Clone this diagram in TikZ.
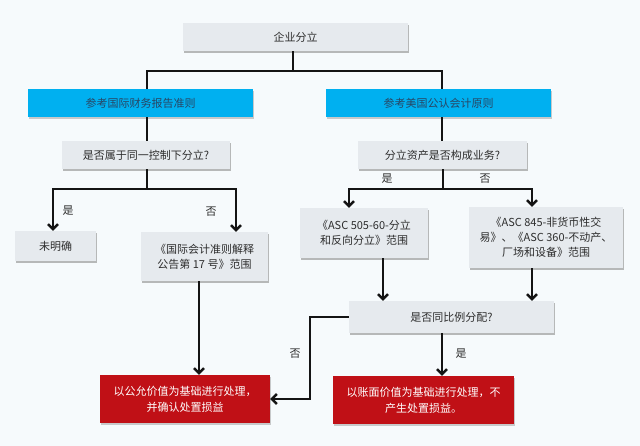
\documentclass[tikz,border=0pt]{standalone}
\usepackage{fontspec}
\setmainfont{Noto Sans CJK SC}
\usetikzlibrary{arrows.meta,shadows}
\definecolor{bgc}{RGB}{246,250,252}
\definecolor{gboxc}{RGB}{230,234,238}
\definecolor{bluec}{RGB}{0,176,240}
\definecolor{redc}{RGB}{192,16,22}
\definecolor{txtc}{RGB}{45,45,45}
\definecolor{bluetxt}{RGB}{40,70,100}
\tikzset{
  gbox/.style={rectangle, fill=gboxc, text=txtc, font=\fontsize{11}{15}\selectfont, align=center, inner sep=2pt,
    drop shadow={shadow xshift=0.6pt, shadow yshift=-1.8pt, fill=black!45, opacity=0.6}},
  bbox/.style={rectangle, fill=bluec, text=bluetxt, font=\fontsize{11}{15}\selectfont, align=center, inner sep=2pt,
    drop shadow={shadow xshift=0.6pt, shadow yshift=-1.8pt, fill=black!40, opacity=0.5}},
  rbox/.style={rectangle, fill=redc, text=white, font=\fontsize{11}{16}\selectfont, align=center, inner sep=2pt,
    drop shadow={shadow xshift=0.6pt, shadow yshift=-1.8pt, fill=black!40, opacity=0.5}},
  conn/.style={line width=2.4pt, draw=black!92, line join=miter},
  arr/.style={conn, -{Straight Barb[length=5pt,width=10pt,line width=2.4pt]}},
  lbl/.style={text=txtc, font=\fontsize{11}{13}\selectfont, inner sep=0pt}
}
\begin{document}
\begin{tikzpicture}[x=1pt,y=-1pt]
\fill[bgc] (0,0) rectangle (640,446);
\useasboundingbox (0,0) rectangle (640,446);

% boxes
\node[gbox, minimum width=225pt, minimum height=28pt] (top) at (295.5,37) {企业分立};
\node[bbox, minimum width=225pt, minimum height=28pt] (blueL) at (140.5,103) {参考国际财务报告准则};
\node[bbox, minimum width=225pt, minimum height=28pt] (blueR) at (438.5,103) {参考美国公认会计原则};
\node[gbox, minimum width=168pt, minimum height=28pt] (q1) at (146,155) {是否属于同一控制下分立?};
\node[gbox, minimum width=169pt, minimum height=28pt] (q2) at (442.5,155) {分立资产是否构成业务?};
\node[gbox, minimum width=81pt, minimum height=30pt] (unk) at (55.5,246) {未明确};
\node[gbox, minimum width=127pt, minimum height=49pt] (ias) at (204.5,256.5) {《国际会计准则解释\\公告第 17 号》范围};
\node[gbox, minimum width=128pt, minimum height=50pt] (asc505) at (364,233) {《ASC 505-60-分立\\和反向分立》范围};
\node[gbox, minimum width=154pt, minimum height=61pt] (asc845) at (546,237.5) {《ASC 845-非货币性交\\易》、《ASC 360-不动产、\\厂场和设备》范围};
\node[gbox, minimum width=205pt, minimum height=32pt] (q3) at (451.5,317) {是否同比例分配?};
\node[rbox, minimum width=170pt, minimum height=48pt] (redL) at (185,399) {以公允价值为基础进行处理，\\并确认处置损益};
\node[rbox, minimum width=181pt, minimum height=48pt] (redR) at (423.5,400) {以账面价值为基础进行处理，不\\产生处置损益。};

% junction coordinates
\coordinate (j1) at (293,71);
\coordinate (cL) at (147,0);
\coordinate (cR) at (442,0);
\coordinate (j2) at (147,189);
\coordinate (j3) at (443,189);
\coordinate (a1) at (53,0);
\coordinate (a2) at (236,0);
\coordinate (a3) at (349,0);
\coordinate (a4) at (532,0);
\coordinate (d1) at (383,0);
\coordinate (d2) at (199,0);
\coordinate (k) at (310,0);

% connectors
\draw[conn] (top.south -| j1) -- (j1);
\draw[conn] (blueL.north -| cL) |- (j1) -| (blueR.north -| cR);
\draw[conn] (blueL.south -| cL) -- (q1.north -| cL);
\draw[conn] (blueR.south -| cR) -- (q2.north -| cR);
\draw[conn] (q1.south -| j2) -- (j2);
\draw[arr] (j2) -| (unk.north -| a1);
\draw[arr] (j2) -| (ias.north -| a2);
\draw[conn] (q2.south -| j3) -- (j3);
\draw[arr] (j3) -| (asc505.north -| a3);
\draw[arr] (j3) -| (asc845.north -| a4);
\draw[arr] (asc505.south -| d1) -- (q3.north -| d1);
\draw[arr] (asc845.south -| a4) -- (q3.north -| a4);
\draw[arr] (ias.south -| d2) -- (redL.north -| d2);
\draw[arr] (q3.west) -- (q3.west -| k) -- (k |- redL.east) -- (redL.east);
\draw[arr] (q3.south -| cR) -- (redR.north -| cR);

% labels
\node[lbl] (l1) at (68,211) {是};
\node[lbl] (l2) at (211,212) {否};
\node[lbl] (l3) at (387,179) {是};
\node[lbl] (l4) at (485,179) {否};
\node[lbl] (l5) at (295,354) {否};
\node[lbl] (l6) at (461,354) {是};
\end{tikzpicture}
\end{document}
